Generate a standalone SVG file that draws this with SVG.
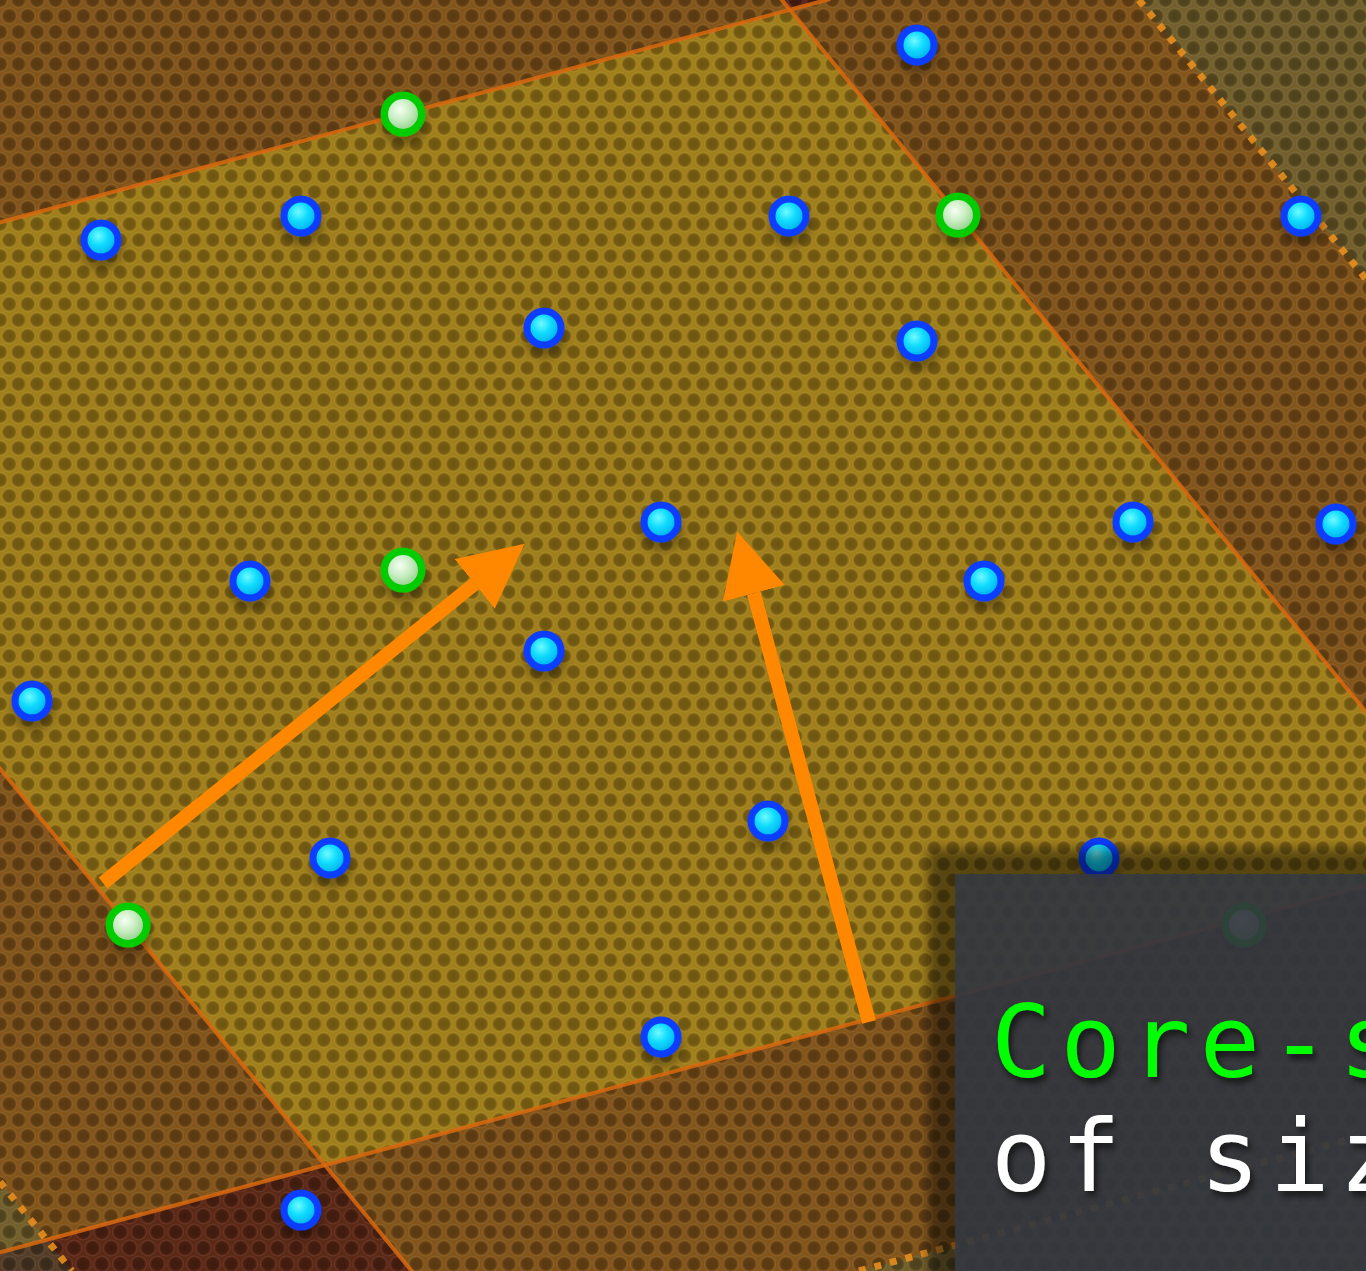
<svg xmlns="http://www.w3.org/2000/svg" width="1366" height="1271" viewBox="0 0 1366 1271">
  <defs>
    <style>
      .edge { stroke: #d9680f; stroke-width: 4; stroke-opacity: 0.85; fill: none; }
      .dotted { stroke: #e88e1e; stroke-width: 7; stroke-dasharray: 7 9; stroke-opacity: 0.9; fill: none; }
      .tint { fill: #3c8a6a; fill-opacity: 0.22; }
      .blue circle { fill: url(#gBlue); stroke: #0a3cff; stroke-width: 7; filter: url(#dsh); }
      .green circle { fill: url(#gGreen); stroke: #00cc00; stroke-width: 7.5; filter: url(#dsh); }
      .arrow { stroke: #ff8800; stroke-width: 14; fill: none; marker-end: url(#head); }
      .label { font-family: "DejaVu Sans Mono", "Liberation Mono", monospace; font-size: 100px; letter-spacing: 9.4px; filter: url(#tsh); }
    </style>
    <radialGradient id="gBlue" cx="0.42" cy="0.38" r="0.55">
      <stop offset="0" stop-color="#6ffbff"/>
      <stop offset="0.5" stop-color="#12dcff"/>
      <stop offset="1" stop-color="#00b4ee"/>
    </radialGradient>
    <radialGradient id="gGreen" cx="0.42" cy="0.38" r="0.55">
      <stop offset="0" stop-color="#f6fff2"/>
      <stop offset="0.55" stop-color="#c6ecbf"/>
      <stop offset="1" stop-color="#96d48e"/>
    </radialGradient>
    <radialGradient id="hole">
      <stop offset="0" stop-color="#000" stop-opacity="0.32"/>
      <stop offset="0.6" stop-color="#000" stop-opacity="0.28"/>
      <stop offset="0.75" stop-color="#000" stop-opacity="0.08"/>
      <stop offset="0.87" stop-color="#fff" stop-opacity="0.07"/>
      <stop offset="1" stop-color="#fff" stop-opacity="0"/>
    </radialGradient>
    <pattern id="honey" patternUnits="userSpaceOnUse" width="18.5" height="32">
      <circle cx="0" cy="0" r="9" fill="url(#hole)"/>
      <circle cx="18.5" cy="0" r="9" fill="url(#hole)"/>
      <circle cx="9.25" cy="16" r="9" fill="url(#hole)"/>
      <circle cx="0" cy="32" r="9" fill="url(#hole)"/>
      <circle cx="18.5" cy="32" r="9" fill="url(#hole)"/>
    </pattern>
    <filter id="dsh" x="-60%" y="-60%" width="220%" height="240%">
      <feDropShadow dx="1" dy="9" stdDeviation="4" flood-color="#000" flood-opacity="0.3"/>
    </filter>
    <filter id="tsh" x="-10%" y="-20%" width="130%" height="150%">
      <feDropShadow dx="3" dy="5" stdDeviation="3" flood-color="#000" flood-opacity="0.6"/>
    </filter>
    <filter id="boxblur" x="-20%" y="-20%" width="140%" height="140%">
      <feGaussianBlur stdDeviation="6"/>
    </filter>
    <marker id="head" markerUnits="userSpaceOnUse" markerWidth="64" markerHeight="64" viewBox="0 0 62 62" refX="0" refY="31" orient="auto">
      <path d="M0,0 L62,31 L0,62 Z" fill="#ff8800"/>
    </marker>
  </defs>

  <g id="cells">
    <rect x="0" y="0" width="1366" height="1271" fill="#82541a"/>
    <polygon id="cell-main" points="-368,321 790,10 1483,854 325,1165" fill="#a07e1a"/>
    <polygon id="cell-top-red" points="97,-834 1255,-1145 1948,-301 790,10" fill="#5a2418"/>
    <polygon id="cell-bottom-red" points="-833,1476 325,1165 1018,2009 -140,2320" fill="#5c2816"/>
    <polygon class="tint" points="1139,0 1366,0 1366,279"/>
    <polygon class="tint" points="0,1182 0,1271 72,1271"/>
    <polygon class="tint" points="859,1271 1366,1135 1366,1271"/>
    <rect x="0" y="0" width="1366" height="1271" fill="url(#honey)"/>
  </g>

  <g id="lattice">
    <line class="edge" x1="-10" y1="225" x2="830" y2="-1"/>
    <line class="edge" x1="-10" y1="1255" x2="1376" y2="883"/>
    <line class="edge" x1="-8" y1="759" x2="415" y2="1275"/>
    <line class="edge" x1="781" y1="-1" x2="1376" y2="724"/>
    <line class="dotted" x1="1139" y1="0" x2="1366" y2="279"/>
    <line class="dotted" x1="0" y1="1182" x2="72" y2="1271"/>
    <line class="dotted" x1="859" y1="1271" x2="1366" y2="1135"/>
  </g>

  <g id="connectors">
    <line class="arrow" x1="103" y1="883" x2="474.7" y2="583.9"/>
    <line class="arrow" x1="869" y1="1022" x2="753.8" y2="593.3"/>
  </g>

  <g id="nodes">
    <g id="b1" class="blue"><circle cx="101" cy="240" r="17"/></g>
    <g id="b2" class="blue"><circle cx="301" cy="216" r="17"/></g>
    <g id="b3" class="blue"><circle cx="789" cy="216" r="17"/></g>
    <g id="b4" class="blue"><circle cx="917" cy="45" r="17"/></g>
    <g id="b5" class="blue"><circle cx="1301" cy="216" r="17"/></g>
    <g id="b6" class="blue"><circle cx="544" cy="328" r="17"/></g>
    <g id="b7" class="blue"><circle cx="917" cy="341" r="17"/></g>
    <g id="b8" class="blue"><circle cx="661" cy="522" r="17"/></g>
    <g id="b9" class="blue"><circle cx="1133" cy="522" r="17"/></g>
    <g id="b10" class="blue"><circle cx="1336" cy="524" r="17"/></g>
    <g id="b11" class="blue"><circle cx="250" cy="581" r="17"/></g>
    <g id="b12" class="blue"><circle cx="984" cy="581" r="17"/></g>
    <g id="b13" class="blue"><circle cx="544" cy="651" r="17"/></g>
    <g id="b14" class="blue"><circle cx="32" cy="701" r="17"/></g>
    <g id="b15" class="blue"><circle cx="768" cy="821" r="17"/></g>
    <g id="b16" class="blue"><circle cx="330" cy="858" r="17"/></g>
    <g id="b17" class="blue"><circle cx="1099" cy="858" r="17"/></g>
    <g id="b18" class="blue"><circle cx="661" cy="1037" r="17"/></g>
    <g id="b19" class="blue"><circle cx="301" cy="1210" r="17"/></g>
    <g id="g1" class="green"><circle cx="403" cy="114" r="18.75"/></g>
    <g id="g2" class="green"><circle cx="958" cy="215" r="18.75"/></g>
    <g id="g3" class="green"><circle cx="403" cy="570" r="18.75"/></g>
    <g id="g4" class="green"><circle cx="128" cy="925" r="18.75"/></g>
    <g id="g5" class="green"><circle cx="1244" cy="925" r="18.75"/></g>
  </g>

  <g id="caption">
    <rect x="928" y="849" width="470" height="450" fill="#000" fill-opacity="0.45" filter="url(#boxblur)"/>
    <rect x="955" y="874" width="420" height="410" fill="#363a44" fill-opacity="0.86"/>
    <text class="label" x="991" y="1077" fill="#00ff00">Core-s</text>
    <text class="label" x="991" y="1191" fill="#ffffff">of siz</text>
  </g>
</svg>
